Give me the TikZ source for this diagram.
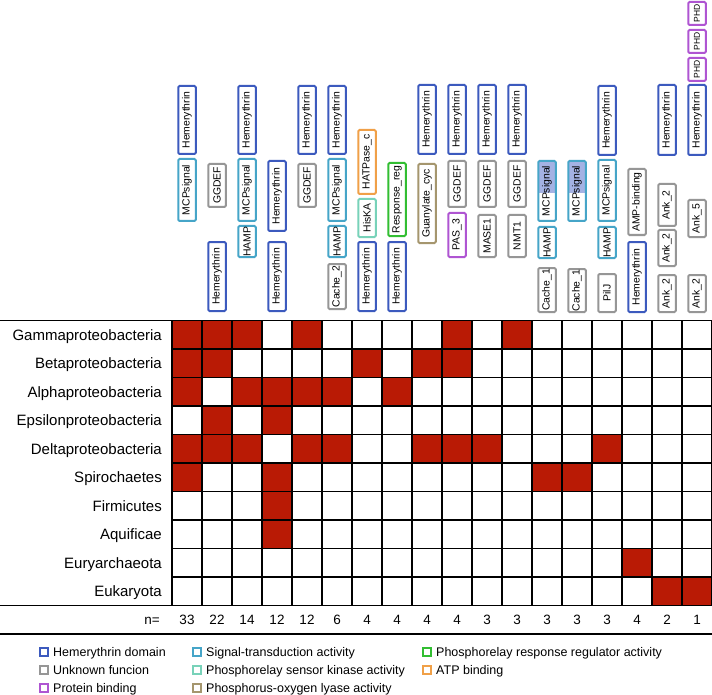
\documentclass[tikz,border=0pt]{standalone}
\usepackage{fontspec}
\setmainfont{Liberation Sans}
\usetikzlibrary{backgrounds}
\definecolor{hemc}{RGB}{60,90,190}
\definecolor{sigc}{RGB}{70,165,200}
\definecolor{unkc}{RGB}{150,150,150}
\definecolor{protc}{RGB}{175,85,210}
\definecolor{kinc}{RGB}{120,210,185}
\definecolor{lyac}{RGB}{165,150,110}
\definecolor{regc}{RGB}{50,190,50}
\definecolor{atpc}{RGB}{240,160,72}
\definecolor{hemfill}{RGB}{164,178,228}
\definecolor{cellred}{RGB}{185,26,5}
\definecolor{bbc}{RGB}{150,150,150}
\tikzset{
  dom/.style={draw=#1, line width=2pt, fill=white, rounded corners=1.2pt, rotate=90,
    inner sep=0pt, minimum height=17.5pt, font=\fontsize{10.4}{12}\selectfont, text=black},
  backbone/.style={draw=bbc, line width=3pt},
  gridl/.style={draw=black, line width=1.3pt},
  rowlab/.style={font=\fontsize{15}{18}\selectfont, inner sep=0pt, anchor=base east},
  nlab/.style={font=\fontsize{13.5}{15}\selectfont, inner sep=0pt, anchor=base},
  legsq/.style={draw=#1, line width=1.6pt, fill=white, minimum size=8.4pt, inner sep=0pt},
  legtxt/.style={font=\fontsize{12.5}{14}\selectfont, inner sep=0pt, anchor=base west},
}
\newcommand\D[7][]{\node[dom=#6, minimum width={(#5)-(#4)-2}, #1] (#2) at (#3,{((#4)+(#5))/2}) {#7};}
\begin{document}
\begin{tikzpicture}[x=1pt,y=-1pt]
\useasboundingbox (0,0) rectangle (712,695);
\fill[white] (0,0) rectangle (712,695);
% ---------------- domain architectures ----------------
% 1
\D{a1}{187}{85}{155}{hemc}{Hemerythrin}
\D{b1}{187}{158}{222}{sigc}{MCPsignal}
% 2
\D{a2}{217}{163}{208}{unkc}{GGDEF}
\D{b2}{217}{241}{312}{hemc}{Hemerythrin}
% 3
\D{a3}{247}{85}{155}{hemc}{Hemerythrin}
\D{b3}{247}{158}{222}{sigc}{MCPsignal}
\D{c3}{247}{225}{258}{sigc}{HAMP}
% 4
\D{a4}{277}{160}{232}{hemc}{Hemerythrin}
\D{b4}{277}{241}{312}{hemc}{Hemerythrin}
% 5
\D{a5}{307}{85}{155}{hemc}{Hemerythrin}
\D{b5}{307}{163}{208}{unkc}{GGDEF}
% 6
\D{a6}{337}{85}{155}{hemc}{Hemerythrin}
\D{b6}{337}{158}{222}{sigc}{MCPsignal}
\D{c6}{337}{225}{258}{sigc}{HAMP}
\D{d6}{337}{263}{310}{unkc}{Cache\_2}
% 7
\D{a7}{367}{129}{195}{atpc}{HATPase\_c}
\D{b7}{367}{198}{238}{kinc}{HisKA}
\D{c7}{367}{241}{312}{hemc}{Hemerythrin}
% 8
\D{a8}{397}{162}{237}{regc}{Response\_reg}
\D{b8}{397}{241}{312}{hemc}{Hemerythrin}
% 9
\D{a9}{427}{84}{155}{hemc}{Hemerythrin}
\D{b9}{427}{163}{244}{lyac}{Guanylate\_cyc}
% 10
\D{a10}{457}{84}{155}{hemc}{Hemerythrin}
\D{b10}{457}{160}{208}{unkc}{GGDEF}
\D{c10}{457}{212}{258}{protc}{PAS\_3}
% 11
\D{a11}{487}{84}{155}{hemc}{Hemerythrin}
\D{b11}{487}{160}{208}{unkc}{GGDEF}
\D{c11}{487}{214}{258}{unkc}{MASE1}
% 12
\D{a12}{517}{84}{155}{hemc}{Hemerythrin}
\D{b12}{517}{160}{208}{unkc}{GGDEF}
\D{c12}{517}{214}{258}{unkc}{NMT1}
% 13
\fill[white] (538.25,161) rectangle (555.75,221);
\fill[hemfill] (538.25,161) rectangle (555.75,193);
\D[fill=none]{a13}{547}{160}{222}{sigc}{MCPsignal}
\D{b13}{547}{226}{259}{sigc}{HAMP}
\D{c13}{547}{267}{313}{unkc}{Cache\_1}
% 14
\fill[white] (568.25,161) rectangle (585.75,221);
\fill[hemfill] (568.25,161) rectangle (585.75,193);
\D[fill=none]{a14}{577}{160}{222}{sigc}{MCPsignal}
\D{b14}{577}{268}{313}{unkc}{Cache\_1}
% 15
\D{a15}{607}{85}{156}{hemc}{Hemerythrin}
\D{b15}{607}{159}{222}{sigc}{MCPsignal}
\D{c15}{607}{226}{259}{sigc}{HAMP}
\D{d15}{607}{273}{313}{unkc}{PilJ}
% 16
\D{a16}{637}{168}{236}{unkc}{AMP-binding}
\D{b16}{637}{241}{313}{hemc}{Hemerythrin}
% 17
\D{a17}{667}{84}{156}{hemc}{Hemerythrin}
\D{b17}{667}{183}{227}{unkc}{Ank\_2}
\D{c17}{667}{229}{267}{unkc}{Ank\_2}
\D{d17}{667}{274}{313}{unkc}{Ank\_2}
% 18
\D[font=\fontsize{8.5}{9}\selectfont]{p18}{697}{1}{26}{protc}{PHD}
\D[font=\fontsize{8.5}{9}\selectfont]{q18}{697}{29}{54}{protc}{PHD}
\D[font=\fontsize{8.5}{9}\selectfont]{r18}{697}{57}{82}{protc}{PHD}
\D{a18}{697}{84}{156}{hemc}{Hemerythrin}
\D{b18}{697}{199}{238}{unkc}{Ank\_5}
\D{c18}{697}{274}{313}{unkc}{Ank\_2}
\begin{scope}[on background layer]
\draw[backbone] (a1) -- (b1);
\draw[backbone] (a2) -- (b2);
\draw[backbone] (a3) -- (b3); \draw[backbone] (b3) -- (c3);
\draw[backbone] (a4) -- (b4);
\draw[backbone] (a5) -- (b5);
\draw[backbone] (a6) -- (b6); \draw[backbone] (b6) -- (c6); \draw[backbone] (c6) -- (d6);
\draw[backbone] (a7) -- (b7); \draw[backbone] (b7) -- (c7);
\draw[backbone] (a8) -- (b8);
\draw[backbone] (a9) -- (b9);
\draw[backbone] (a10) -- (b10); \draw[backbone] (b10) -- (c10);
\draw[backbone] (a11) -- (b11); \draw[backbone] (b11) -- (c11);
\draw[backbone] (a12) -- (b12); \draw[backbone] (b12) -- (c12);
\draw[backbone] (a13) -- (b13); \draw[backbone] (b13) -- (c13);
\draw[backbone] (a14) -- (b14);
\draw[backbone] (a15) -- (b15); \draw[backbone] (b15) -- (c15); \draw[backbone] (c15) -- (d15);
\draw[backbone] (a16) -- (b16);
\draw[backbone] (a17) -- (b17); \draw[backbone] (b17) -- (c17); \draw[backbone] (c17) -- (d17);
\draw[backbone] (p18) -- (q18); \draw[backbone] (q18) -- (r18); \draw[backbone] (r18) -- (a18);
\draw[backbone] (a18) -- (b18); \draw[backbone] (b18) -- (c18);
\end{scope}
% ---------------- presence grid ----------------
\foreach \r/\cols in {0/{1,2,3,5,10,12}, 1/{1,2,7,9,10}, 2/{1,3,4,5,6,8}, 3/{2,4},
  4/{1,2,3,5,6,9,10,11,15}, 5/{1,4,13,14}, 6/{4}, 7/{4}, 8/{16}, 9/{17,18}}
  \foreach \c in \cols
    \fill[cellred] ({172+30*(\c-1)},{320.5+28.5*\r}) rectangle +(30,28.5);
\foreach \i in {0,...,18}
  \draw[gridl] ({172+30*\i},320.5) -- ({172+30*\i},605.5);
\foreach \j in {1,...,9}
  \draw[gridl] (172,{320.5+28.5*\j}) -- (712,{320.5+28.5*\j});
\draw[gridl] (0,320.5) -- (712,320.5);
\draw[gridl] (0,605.5) -- (712,605.5);
\draw[gridl] (0,634) -- (712,634);
% row labels
\node[rowlab] (l1) at (162,340.2) {Gammaproteobacteria};
\node[rowlab] (l2) at (162,368.7) {Betaproteobacteria};
\node[rowlab] (l3) at (162,397.2) {Alphaproteobacteria};
\node[rowlab] (l4) at (162,425.7) {Epsilonproteobacteria};
\node[rowlab] (l5) at (162,454.2) {Deltaproteobacteria};
\node[rowlab] (l6) at (162,482.7) {Spirochaetes};
\node[rowlab] (l7) at (162,511.2) {Firmicutes};
\node[rowlab] (l8) at (162,539.7) {Aquificae};
\node[rowlab] (l9) at (162,568.2) {Euryarchaeota};
\node[rowlab] (l10) at (162,596.7) {Eukaryota};
% n row
\node[nlab, anchor=base east] (nlabel) at (160,624.8) {n=};
\foreach \n [count=\k] in {33,22,14,12,12,6,4,4,4,4,3,3,3,3,3,4,2,1}
  \node[nlab] (n\k) at ({157+30*\k},624.8) {\n};
% ---------------- legend ----------------
\node[legsq=hemc] (s1) at (44,652) {};
\node[legtxt] (t1) at (53,656.5) {Hemerythrin domain};
\node[legsq=unkc] (s2) at (44,670) {};
\node[legtxt] (t2) at (53,674.5) {Unknown funcion};
\node[legsq=protc] (s3) at (44,688) {};
\node[legtxt] (t3) at (53,692.5) {Protein binding};
\node[legsq=sigc] (s4) at (197,652) {};
\node[legtxt] (t4) at (206,656.5) {Signal-transduction activity};
\node[legsq=kinc] (s5) at (197,670) {};
\node[legtxt] (t5) at (206,674.5) {Phosphorelay sensor kinase activity};
\node[legsq=lyac] (s6) at (197,688) {};
\node[legtxt] (t6) at (206,692.5) {Phosphorus-oxygen lyase activity};
\node[legsq=regc] (s7) at (427,652) {};
\node[legtxt] (t7) at (436,656.5) {Phosphorelay response regulator activity};
\node[legsq=atpc] (s8) at (427,670) {};
\node[legtxt] (t8) at (436,674.5) {ATP binding};
\end{tikzpicture}
\end{document}
